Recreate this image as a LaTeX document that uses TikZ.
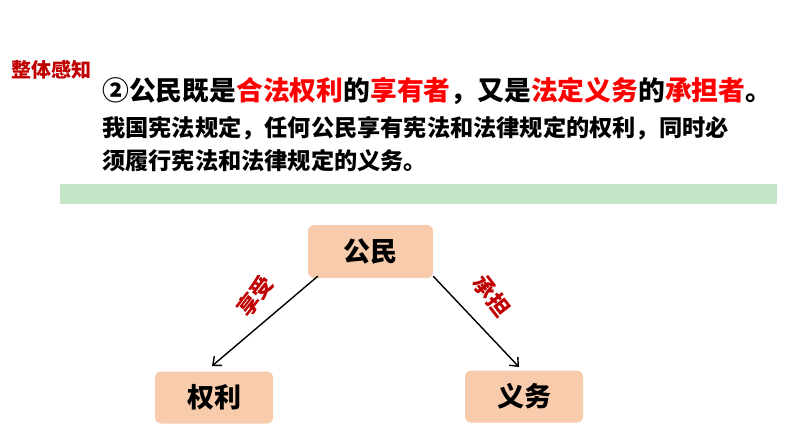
\documentclass[tikz,border=0pt]{standalone}
\usepackage{fontspec}
\setmainfont{Noto Sans CJK SC}
\newfontfamily\cjk{Noto Sans CJK SC}
\usetikzlibrary{arrows.meta}
\definecolor{darkred}{HTML}{C00000}
\definecolor{hired}{HTML}{FF0000}
\definecolor{peach}{HTML}{F8CBAD}
\definecolor{band}{HTML}{C5E5C8}
\tikzset{
  box/.style={fill=peach, rounded corners=6pt, minimum width=118pt, minimum height=52pt, inner sep=0pt, font=\cjk\bfseries\fontsize{27}{27}\selectfont},
  lbl/.style={text=darkred, font=\cjk\bfseries\fontsize{22}{22}\selectfont, inner sep=0pt},
  conn/.style={draw=black, line width=1.4pt, -{Straight Barb[length=7pt,width=12pt,line width=1.4pt]}}
}
\begin{document}
\begin{tikzpicture}[x=1pt,y=-1pt]
\useasboundingbox[fill=white] (0,0) rectangle (794,447);
\node[anchor=west, text=darkred, font=\cjk\bfseries\fontsize{20}{20}\selectfont, inner sep=0pt] (ztgz) at (11,70) {整体感知};
\node[anchor=west, font=\cjk\bfseries\fontsize{26.8}{26.8}\selectfont, inner sep=0pt] (title) at (102,91)
 {②公民既是\textcolor{hired}{合法权利}的\textcolor{hired}{享有者}，又是\textcolor{hired}{法定义务}的\textcolor{hired}{承担者}。};
\node[anchor=west, font=\cjk\bfseries\fontsize{23.2}{23.2}\selectfont, inner sep=0pt] (l1) at (102,128)
 {我国宪法规定，任何公民享有宪法和法律规定的权利，同时必};
\node[anchor=west, font=\cjk\bfseries\fontsize{23.2}{23.2}\selectfont, inner sep=0pt] (l2) at (102,161)
 {须履行宪法和法律规定的义务。};
\fill[band] (60,184) rectangle (777,204);
\node[box, minimum width=125pt, minimum height=53pt] (gm) at (370.5,251.5) {公民};
\node[box] (ql) at (214,397.5) {权利};
\node[box] (yw) at (524,396.5) {义务};
\coordinate (e1) at (212,366);
\coordinate (e2) at (519,367);
\draw[conn] ([xshift=10pt,yshift=2pt]gm.south west) -- (e1);
\draw[conn] ([xshift=0pt,yshift=2pt]gm.south east) -- (e2);
\node[lbl, rotate=52] (xs) at (255,296) {享受};
\node[lbl, rotate=-52] (cd) at (492,296) {承担};
\end{tikzpicture}
\end{document}
